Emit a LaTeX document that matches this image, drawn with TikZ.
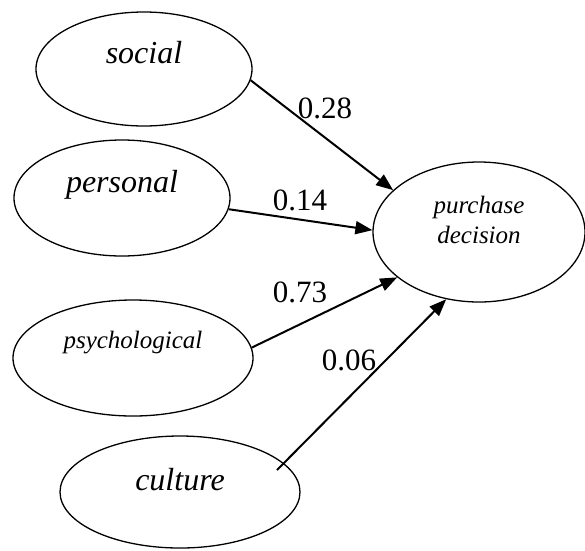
\documentclass[tikz,border=0pt]{standalone}
\usepackage{fontspec}
\setmainfont{Liberation Serif}
\usepackage{tikz}
\usetikzlibrary{shapes.geometric,arrows.meta}
\tikzstyle{factor} =[
    draw=black,
    ellipse,
    line width=1.3pt,
    inner sep=0pt,
    text height=0pt,
    font=\fontsize{32}{34}\selectfont\itshape
    ]
\tikzstyle{weight} =[
    anchor=base,
    inner sep=0pt,
    font=\fontsize{31}{33}\selectfont
    ]
\tikzstyle{path} =[
    line width=2pt,
    -{Triangle[length=17pt,width=13pt]}
    ]

\begin{document}
\begin{tikzpicture}[x=1pt,y=-1pt]
\useasboundingbox (0,0) rectangle (585,550);
% factors
\node[factor, minimum width=216pt, minimum height=114pt, text depth=12pt] (social) at (144,69) {social};
\node[factor, minimum width=216pt, minimum height=116pt, text depth=12pt] (personal) at (122,198) {personal};
\node[factor, minimum width=240pt, minimum height=116pt, text depth=20pt,
    font=\fontsize{25}{27}\selectfont\itshape] (psycho) at (133,358) {psychological};
\node[factor, minimum width=240pt, minimum height=112pt, text depth=4pt] (culture) at (180,492) {culture};
% outcome
\node[factor, minimum width=212pt, minimum height=140pt, text height=22pt, text depth=0pt, align=center,
    font=\fontsize{25}{30}\selectfont\itshape] (decision) at (479,232) {purchase\\decision};

\draw[path] (social.-6) -- (decision.154.5);
\draw[path] (personal.-6) -- (decision.179);
\draw[path] (psycho.5) -- (decision.209);
\draw[path] ([shift={(97,-22)}]culture.center) -- (decision.244);

\node[weight] (wsocial) at (325,118) {0.28};
\node[weight] (wpersonal) at (300,210) {0.14};
\node[weight] (wpsycho) at (300,302) {0.73};
\node[weight] (wculture) at (349,370) {0.06};
\end{tikzpicture}
\end{document}
